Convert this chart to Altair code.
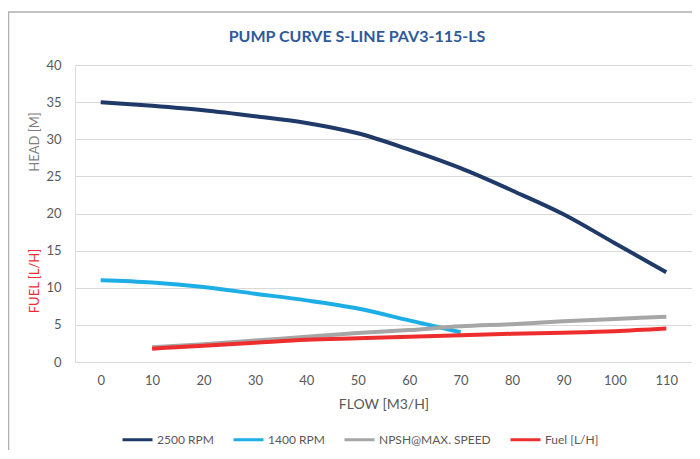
import altair as alt
import pandas as pd

flow_2500 = [0, 10, 20, 30, 40, 50, 60, 70, 80, 90, 100, 110]
head_2500 = [35.0, 34.5, 33.9, 33.1, 32.2, 30.8, 28.6, 26.1, 23.1, 19.9, 16.0, 12.1]
flow_1400 = [0, 10, 20, 30, 40, 50, 60, 70]
head_1400 = [11.0, 10.7, 10.1, 9.2, 8.3, 7.2, 5.6, 4.0]
flow_npsh = [10, 20, 30, 40, 50, 60, 70, 80, 90, 100, 110]
npsh = [2.0, 2.4, 2.9, 3.4, 3.9, 4.3, 4.8, 5.1, 5.5, 5.8, 6.1]
flow_fuel = [10, 20, 30, 40, 50, 60, 70, 80, 90, 100, 110]
fuel = [1.8, 2.2, 2.6, 3.0, 3.2, 3.4, 3.6, 3.8, 3.95, 4.15, 4.5]

series_names = ["2500 RPM", "1400 RPM", "NPSH@MAX. SPEED", "Fuel [L/H]"]
series_colors = ["#1f3a68", "#1eaee6", "#a6a6a6", "#ee2e2e"]
x_ticks = [0, 10, 20, 30, 40, 50, 60, 70, 80, 90, 100, 110]
y_ticks = [0, 5, 10, 15, 20, 25, 30, 35, 40]

chart_title = "PUMP CURVE S-LINE PAV3-115-LS"
head_title = "HEAD [M]"
fuel_title_text = "FUEL [L/H]"

rows = []
for name, xs, ys in [
    (series_names[0], flow_2500, head_2500),
    (series_names[1], flow_1400, head_1400),
    (series_names[2], flow_npsh, npsh),
    (series_names[3], flow_fuel, fuel),
]:
    for x, y in zip(xs, ys):
        rows.append({"series": name, "flow": x, "value": y})
df = pd.DataFrame(rows)

FONT = "Lato"
GREY = "#595959"

lines = alt.Chart(df).mark_line(strokeWidth=4, interpolate="monotone", strokeCap="butt").encode(
    x=alt.X("flow:Q",
            scale=alt.Scale(domain=[-5, 115], nice=False, zero=False),
            axis=alt.Axis(values=x_ticks, grid=False, domain=False, ticks=False,
                          labelPadding=12, labelFontSize=13, labelColor=GREY, labelFont=FONT,
                          title="FLOW [M3/H]", titleFont=FONT, titleFontSize=14,
                          titleFontWeight="normal", titleColor=GREY, titlePadding=10)),
    y=alt.Y("value:Q",
            scale=alt.Scale(domain=[0, 40], nice=False),
            axis=alt.Axis(values=y_ticks, grid=True, gridColor="#d9d9d9", gridWidth=1,
                          domain=False, ticks=False, labelPadding=14,
                          labelFontSize=13, labelColor=GREY, labelFont=FONT,
                          title=None)),
    color=alt.Color("series:N",
                    scale=alt.Scale(domain=series_names, range=series_colors),
                    legend=alt.Legend(title=None, orient="none", direction="horizontal",
                                      legendX=46, legendY=358,
                                      symbolType="stroke", symbolSize=900,
                                      symbolStrokeWidth=3, labelFont=FONT, labelFontSize=12,
                                      labelColor=GREY, labelOffset=3, columnPadding=13)),
    order=alt.Order("flow:Q"),
)

head_text = alt.Chart(pd.DataFrame({"t": [head_title]})).mark_text(
    angle=270, font=FONT, fontSize=13, color="#7f7f7f", baseline="middle", align="center"
).encode(x=alt.value(-40), y=alt.value(77), text="t:N")

fuel_text = alt.Chart(pd.DataFrame({"t": [fuel_title_text]})).mark_text(
    angle=270, font=FONT, fontSize=13, color="#ee2e2e", baseline="middle", align="center"
).encode(x=alt.value(-40), y=alt.value(216), text="t:N")

title_text = alt.Chart(pd.DataFrame({"t": [chart_title]})).mark_text(
    font=FONT, fontSize=16, fontWeight="bold", color="#2e5a9c", baseline="middle", align="center"
).encode(x=alt.value(282), y=alt.value(-28), text="t:N")

frame = alt.Chart(pd.DataFrame({"t": [0]})).mark_rect(
    fill="transparent", stroke="#b0b0b0", strokeWidth=1.5
).encode(x=alt.value(-66.5), x2=alt.value(660), y=alt.value(-53), y2=alt.value(420))

chart = alt.layer(frame, lines, head_text, fuel_text, title_text).properties(
    width=617, height=297,
    autosize=alt.AutoSizeParams(type="none"),
    padding={"left": 67, "top": 57, "right": 0, "bottom": 88},
).configure_view(stroke=None).configure(background="white")

chart.save("out.html", embed_options={"renderer": "svg", "actions": False})
